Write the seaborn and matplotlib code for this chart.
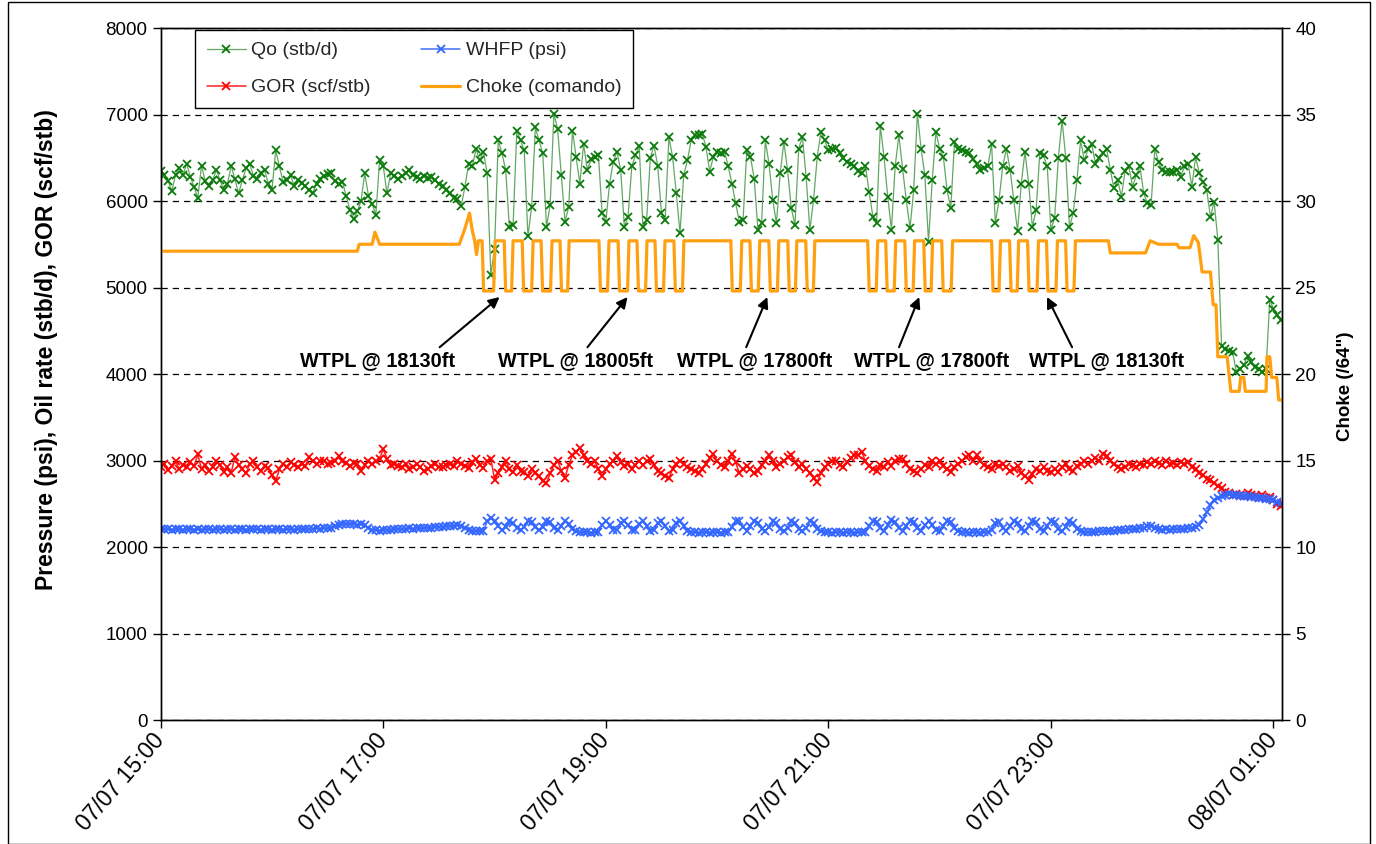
import numpy as np
import pandas as pd
import matplotlib
matplotlib.use("Agg")
import matplotlib.pyplot as plt
import matplotlib.dates as mdates
from matplotlib.patches import Rectangle
import seaborn as sns

# ---------------------------------------------------------------- data
start = pd.Timestamp("2009-07-07 15:00")

# Oil rate, stb/d (one reading every 2 minutes from 15:00)
qo = [
    6350, 6300, 6230, 6120, 6300, 6380, 6300, 6430, 6280, 6160,
    6040, 6410, 6230, 6170, 6240, 6360, 6240, 6130, 6200, 6410,
    6250, 6090, 6240, 6380, 6430, 6290, 6260, 6320, 6360, 6200,
    6130, 6590, 6400, 6220, 6240, 6300, 6170, 6240, 6210, 6170,
    6130, 6090, 6200, 6260, 6290, 6310, 6320, 6230, 6200, 6220,
    6060, 5900, 5790, 5880, 6000, 6320, 6060, 5970, 5840, 6470,
    6400, 6090, 6320, 6290, 6260, 6290, 6320, 6360, 6300, 6280,
    6260, 6290, 6270, 6280, 6240, 6200, 6170, 6130, 6090, 6040,
    6020, 5940, 6160, 6430, 6400, 6600, 6470, 6570, 6320, 5150,
    5450, 6700, 6550, 6360, 5700, 5720, 6815, 6700, 6585, 5590,
    5935, 6850, 6700, 6550, 5700, 5955, 7010, 6835, 6300, 5760,
    5935, 6815, 6510, 6200, 6660, 6360, 6480, 6510, 6530, 5860,
    5760, 6200, 6450, 6570, 6360, 5700, 5820, 6400, 6530, 6640,
    5700, 5780, 6500, 6640, 6400, 5860, 5780, 6740, 6510, 6090,
    5630, 6300, 6470, 6700, 6760, 6760, 6780, 6625, 6340, 6510,
    6570, 6560, 6570, 6400, 6200, 5975, 5760, 5780, 6585, 6510,
    6260, 5670, 5745, 6700, 6430, 6010, 5745, 6320, 6680, 6360,
    5915, 5725, 6605, 6740, 6280, 5670, 6010, 6510, 6800, 6700,
    6585, 6600, 6610, 6550, 6500, 6450, 6430, 6410, 6350, 6320,
    6400, 6100, 5820, 5745, 6870, 6510, 6050, 5670, 6400, 6760,
    6375, 6010, 5685, 6125, 7010, 6605, 6300, 5530, 6240, 6800,
    6600, 6510, 6125, 5915, 6680, 6600, 6585, 6570, 6550, 6480,
    6430, 6360, 6380, 6400, 6660, 5745, 6010, 6400, 6605, 6360,
    6010, 5650, 6200, 6570, 6200, 5700, 5895, 6550, 6530, 6400,
    5670, 5800, 6500, 6930, 6500, 5700, 5860, 6240, 6700, 6470,
    6600, 6660, 6430, 6500, 6550, 6605, 6360, 6145, 6240, 6050,
    6350, 6400, 6165, 6300, 6400, 6090, 5975, 5955, 6605, 6450,
    6360, 6340, 6340, 6330, 6360, 6280, 6400, 6430, 6165, 6510,
    6320, 6220, 6125, 5820, 5990, 5550, 4320, 4290, 4270, 4250,
    4020, 4060, 4100, 4210, 4140, 4080, 4060, 4020, 4060, 4860,
    4750, 4680, 4620,
]

# Gas-oil ratio, scf/stb
gor = [
    2930, 2960, 2890, 2940, 2990, 2900, 2950, 2920, 2980, 2940,
    3070, 2900, 2950, 2880, 2930, 2990, 2950, 2870, 2920, 2860,
    3040, 2950, 2900, 2850, 2960, 2990, 2930, 2880, 2940, 2910,
    2830, 2760, 2900, 2960, 2920, 2980, 2950, 2930, 2960, 2940,
    3040, 2990, 2960, 2990, 3000, 2960, 2970, 3000, 3050, 2990,
    2970, 2940, 2970, 2960, 2880, 2950, 2990, 2960, 2990, 3020,
    3130, 3020, 2950, 2960, 2940, 2920, 2960, 2900, 2930, 2960,
    2920, 2880, 2900, 2940, 2960, 2920, 2930, 2950, 2960, 2940,
    3000, 2960, 2940, 2910, 2980, 3020, 2950, 2910, 2990, 3020,
    2780, 2860, 2930, 3000, 2900, 2870, 2950, 2880, 2870, 2820,
    2900, 2850, 2820, 2760, 2740, 2850, 2950, 3000, 2880, 2800,
    2950, 3060, 3100, 3150, 3060, 3000, 2960, 2990, 2900, 2820,
    2900, 2960, 2990, 3050, 2980, 2940, 2960, 2900, 2950, 2990,
    2950, 2990, 3020, 2950, 2880, 2850, 2820, 2800, 2900, 2960,
    3000, 2960, 2920, 2900, 2880, 2850, 2900, 2960, 3030, 3070,
    2990, 2950, 2920, 3000, 3080, 2980, 2850, 2900, 2940, 2900,
    2860, 2880, 2950, 3000, 3060, 2990, 2930, 2960, 3000, 3040,
    3060, 2980, 2920, 2960, 2900, 2860, 2800, 2750, 2860, 2920,
    2960, 2990, 3000, 2950, 2920, 2980, 3030, 3060, 3060, 3100,
    2990, 2940, 2900, 2880, 2950, 2920, 2980, 2940, 3000, 3020,
    3020, 2960, 2900, 2880, 2850, 2900, 2950, 2920, 2990, 2960,
    2990, 2940, 2900, 2870, 2920, 2960, 3000, 3040, 3060, 3000,
    3060, 2990, 2950, 2920, 2900, 2960, 2940, 2960, 2920, 2880,
    2900, 2940, 2860, 2820, 2780, 2840, 2900, 2880, 2920, 2880,
    2870, 2900, 2870, 2920, 2960, 2900, 2880, 2940, 2960, 2990,
    2960, 3000, 3030, 3000, 3080, 3050, 3000, 2960, 2920, 2900,
    2920, 2960, 2950, 2930, 2960, 2950, 2980, 2960, 2990, 2970,
    2950, 2990, 2960, 2970, 2950, 2980, 2960, 2980, 2930, 2900,
    2860, 2830, 2790, 2780, 2740, 2700, 2680, 2640, 2620, 2600,
    2610, 2600, 2590, 2620, 2600, 2590, 2580, 2600, 2570, 2580,
    2540, 2500, 2470,
]

# Wellhead flowing pressure, psi
whfp = [
    2210, 2205, 2210, 2200, 2205, 2210, 2200, 2205, 2210, 2200,
    2205, 2200, 2210, 2205, 2200, 2210, 2205, 2200, 2205, 2210,
    2200, 2205, 2210, 2200, 2205, 2210, 2205, 2200, 2210, 2205,
    2200, 2210, 2205, 2200, 2210, 2205, 2200, 2205, 2210, 2210,
    2205, 2210, 2215, 2210, 2220, 2215, 2225, 2240, 2260, 2265,
    2270, 2265, 2270, 2260, 2270, 2250, 2220, 2200, 2195, 2190,
    2200, 2195, 2200, 2205, 2210, 2205, 2210, 2215, 2210, 2220,
    2215, 2220, 2225, 2220, 2230, 2235, 2230, 2240, 2245, 2240,
    2250, 2240, 2220, 2200, 2190, 2180, 2190, 2185, 2300, 2330,
    2300, 2240, 2200, 2230, 2300, 2280, 2220, 2200, 2230, 2300,
    2290, 2230, 2200, 2230, 2300, 2290, 2220, 2200, 2240, 2300,
    2270, 2210, 2180, 2170, 2170, 2170, 2165, 2170, 2170, 2260,
    2300, 2250, 2200, 2200, 2280, 2300, 2260, 2200, 2200, 2270,
    2300, 2240, 2190, 2200, 2280, 2300, 2240, 2190, 2200, 2280,
    2300, 2240, 2190, 2170, 2170, 2165, 2170, 2170, 2165, 2170,
    2170, 2165, 2170, 2170, 2230, 2300, 2300, 2230, 2190, 2240,
    2300, 2280, 2210, 2190, 2230, 2300, 2280, 2210, 2190, 2220,
    2300, 2280, 2210, 2190, 2220, 2300, 2280, 2210, 2180, 2170,
    2170, 2165, 2170, 2170, 2165, 2170, 2170, 2165, 2170, 2170,
    2175, 2240, 2300, 2290, 2220, 2190, 2250, 2310, 2290, 2220,
    2190, 2240, 2300, 2290, 2220, 2190, 2250, 2300, 2260, 2200,
    2190, 2240, 2300, 2290, 2220, 2180, 2170, 2170, 2165, 2170,
    2170, 2165, 2170, 2175, 2200, 2280, 2290, 2220, 2190, 2240,
    2300, 2280, 2210, 2190, 2240, 2300, 2290, 2210, 2190, 2240,
    2300, 2290, 2210, 2190, 2230, 2300, 2280, 2210, 2180, 2170,
    2170, 2170, 2175, 2180, 2180, 2185, 2190, 2190, 2195, 2200,
    2200, 2205, 2205, 2210, 2215, 2220, 2240, 2245, 2220, 2205,
    2200, 2205, 2200, 2205, 2210, 2205, 2210, 2215, 2220, 2230,
    2260, 2320, 2400, 2480, 2540, 2570, 2590, 2600, 2610, 2600,
    2600, 2595, 2590, 2585, 2580, 2575, 2570, 2565, 2560, 2560,
    2540, 2520, 2510,
]

# Choke command (/64"), vertices as minutes after 15:00 and setting
choke_min = [
    0, 106, 107, 114, 115.5, 117, 118, 161, 164, 166.5, 168, 169.3, 170.3, 171.3,
    173.3, 174.1, 179.5, 180.3, 185.2, 186.0, 189.2, 190.0, 194.9, 195.7, 200.0, 200.8,
    205.1, 205.9, 210.2, 211.0, 215.3, 216.1, 219.4, 220.2,
    236.3, 237.1, 240.9, 241.7, 246.6, 247.4, 251.7, 252.5, 256.8, 257.6, 261.4, 262.2,
    266.5, 267.3, 271.1, 271.9, 276.7, 277.5, 281.3, 282.1,
    307.4, 308.2, 312.5, 313.3, 317.7, 318.5, 322.2, 323.0, 327.9, 328.7, 332.5, 333.3,
    338.1, 338.9, 342.2, 343.0, 347.8, 348.6, 351.9, 352.7,
    381.2, 382.0, 385.8, 386.6, 390.9, 391.7, 395.5, 396.3, 401.2, 402.0, 405.7, 406.5,
    411.4, 412.2, 415.4, 416.2, 421.1, 421.9, 426.2, 427.0,
    448.0, 448.8, 452.0, 452.8, 457.7, 458.5, 461.8, 462.6, 467.4, 468.2, 472.5, 473.3,
    477.6, 478.4, 482.7, 483.5, 487.9, 488.7, 492.4, 493.2,
    511, 512, 531, 533.5, 538, 548, 549, 555, 557, 559.5, 561.5, 566, 567.5, 569, 570,
    575, 577, 581.5, 582.3, 584, 584.8, 596, 596.5, 598, 599, 601.8, 602.8, 605,
]
choke_val = [
    27.1, 27.1, 27.5, 27.5, 28.2, 27.8, 27.5, 27.5, 28.4, 29.3, 28.3, 27.7, 26.9, 27.7,
    27.7, 24.8, 24.8, 27.7, 27.7, 24.8, 24.8, 27.7, 27.7, 24.8, 24.8, 27.7,
    27.7, 24.8, 24.8, 27.7, 27.7, 24.8, 24.8, 27.7,
    27.7, 24.8, 24.8, 27.7, 27.7, 24.8, 24.8, 27.7, 27.7, 24.8, 24.8, 27.7,
    27.7, 24.8, 24.8, 27.7, 27.7, 24.8, 24.8, 27.7,
    27.7, 24.8, 24.8, 27.7, 27.7, 24.8, 24.8, 27.7, 27.7, 24.8, 24.8, 27.7,
    27.7, 24.8, 24.8, 27.7, 27.7, 24.8, 24.8, 27.7,
    27.7, 24.8, 24.8, 27.7, 27.7, 24.8, 24.8, 27.7, 27.7, 24.8, 24.8, 27.7,
    27.7, 24.8, 24.8, 27.7, 27.7, 24.8, 24.8, 27.7,
    27.7, 24.8, 24.8, 27.7, 27.7, 24.8, 24.8, 27.7, 27.7, 24.8, 24.8, 27.7,
    27.7, 24.8, 24.8, 27.7, 27.7, 24.8, 24.8, 27.7,
    27.7, 27.0, 27.0, 27.7, 27.5, 27.5, 27.3, 27.3, 28.0, 27.6, 25.9, 25.9, 24.0, 24.0, 21.0,
    21.0, 19.0, 19.0, 19.8, 19.8, 19.0, 19.0, 21.0, 21.0, 19.8, 19.8, 18.5, 18.5,
]

wtpl_labels = ["WTPL @ 18130ft", "WTPL @ 18005ft", "WTPL @ 17800ft",
               "WTPL @ 17800ft", "WTPL @ 18130ft"]

times = pd.date_range(start, periods=len(qo), freq="2min")
df = pd.DataFrame({"time": times, "qo": qo, "gor": gor, "whfp": whfp})
ck = pd.DataFrame({"time": start + pd.to_timedelta(choke_min, unit="min"),
                   "choke": choke_val})

# ---------------------------------------------------------------- style
sns.set_theme(style="white")
plt.rcParams["font.family"] = ["Liberation Sans", "DejaVu Sans"]
plt.rcParams["axes.edgecolor"] = "black"

fig = plt.figure(figsize=(13.76, 8.44), dpi=100)
ax = fig.add_axes([0.1168, 0.1469, 0.8149, 0.8199])
ax2 = ax.twinx()

common = dict(estimator=None, sort=False, legend=False, marker="x")
sns.lineplot(data=df, x="time", y="qo", ax=ax, color="#62a862", lw=0.9,
             ms=5.5, mec="#0b7a0b", mew=1.3, label="Qo (stb/d)", **common)
sns.lineplot(data=df, x="time", y="gor", ax=ax, color="#ff2020", lw=1.1,
             ms=5.5, mec="#ff0000", mew=1.3, label="GOR (scf/stb)", **common)
sns.lineplot(data=df, x="time", y="whfp", ax=ax, color="#4070ff", lw=1.1,
             ms=5.5, mec="#3366ff", mew=1.3, label="WHFP (psi)", **common)
sns.lineplot(data=ck, x="time", y="choke", ax=ax2, color="#ffa010", lw=2.3,
             estimator=None, sort=False, legend=False, label="Choke (comando)")

t0 = mdates.date2num(start)
t_end = mdates.date2num(start + pd.Timedelta(minutes=604.6))
ax.set_xlim(t0, t_end)
ax.set_ylim(0, 8000)
ax2.set_ylim(0, 40)
ax.set_yticks(range(0, 8001, 1000))
ax2.set_yticks(range(0, 41, 5))

ax.xaxis.set_major_locator(mdates.HourLocator(byhour=range(1, 24, 2)))
ax.xaxis.set_major_formatter(mdates.DateFormatter("%d/%m %H:%M"))

ax.yaxis.grid(True, linestyle=(0, (5, 4)), color="black", lw=0.9)
ax.xaxis.grid(False)
ax2.grid(False)
ax.set_axisbelow(True)

for a in (ax, ax2):
    for s in a.spines.values():
        s.set_color("black")
        s.set_linewidth(1.0)

ax.tick_params(axis="both", which="major", bottom=True, left=True, length=6,
               width=1, color="black", labelsize=13.5, labelcolor="black")
ax.tick_params(axis="x", labelsize=16.5, pad=6)
ax2.tick_params(axis="y", right=True, length=6, width=1, color="black",
                labelsize=13.5, labelcolor="black")
plt.setp(ax.get_xticklabels(), rotation=49, ha="right", va="center",
         rotation_mode="anchor")

ax.set_xlabel("")
ax.set_ylabel("Pressure (psi), Oil rate (stb/d), GOR (scf/stb)",
              fontsize=16.5, fontweight="bold", color="black")
ax.yaxis.set_label_coords(-0.092, 0.536)
ax2.set_ylabel('Choke (/64")', fontsize=13.5, fontweight="bold", color="black")
ax2.yaxis.set_label_coords(1.049, 0.483)

# legend with all four series
handles = [ax.lines[0], ax.lines[1], ax.lines[2], ax2.lines[0]]
labels = [h.get_label() for h in handles]
leg = ax2.legend(handles, labels, loc="upper left", bbox_to_anchor=(0.0306, 0.997),
                 borderaxespad=0, ncol=2, frameon=True, fancybox=False,
                 edgecolor="black", framealpha=1, fontsize=14, handlelength=2.0,
                 handletextpad=0.3, columnspacing=2.6, labelspacing=1.0,
                 borderpad=0.6)
leg.get_frame().set_linewidth(1.0)

# WTPL annotations (minutes after 15:00 for text centre, arrow tail, arrow tip)
text_min = [117.0, 223.7, 320.1, 415.4, 510.2]
tail_min = [150.4, 230.1, 315.7, 398.1, 491.4]
tip_min = [182.7, 251.7, 327.1, 409.0, 477.9]

def tnum(m):
    return mdates.date2num(start + pd.Timedelta(minutes=m))

for lab, tm, tl, tp in zip(wtpl_labels, text_min, tail_min, tip_min):
    ax.text(tnum(tm), 4160, lab, ha="center", va="center", fontsize=14.3,
            fontweight="bold", color="black", zorder=6)
    ax.annotate("", xy=(tnum(tp), 4890), xytext=(tnum(tl), 4310),
                arrowprops=dict(arrowstyle="-|>", color="black", lw=1.5,
                                mutation_scale=16, shrinkA=0, shrinkB=0),
                zorder=6)

# outer frame of the chart area
fig.patches.append(Rectangle((8 / 1376, 0.0), 1362 / 1376, 0.998,
                             transform=fig.transFigure, fill=False,
                             edgecolor="black", lw=1.0))

fig.savefig("out.png", dpi=100)
